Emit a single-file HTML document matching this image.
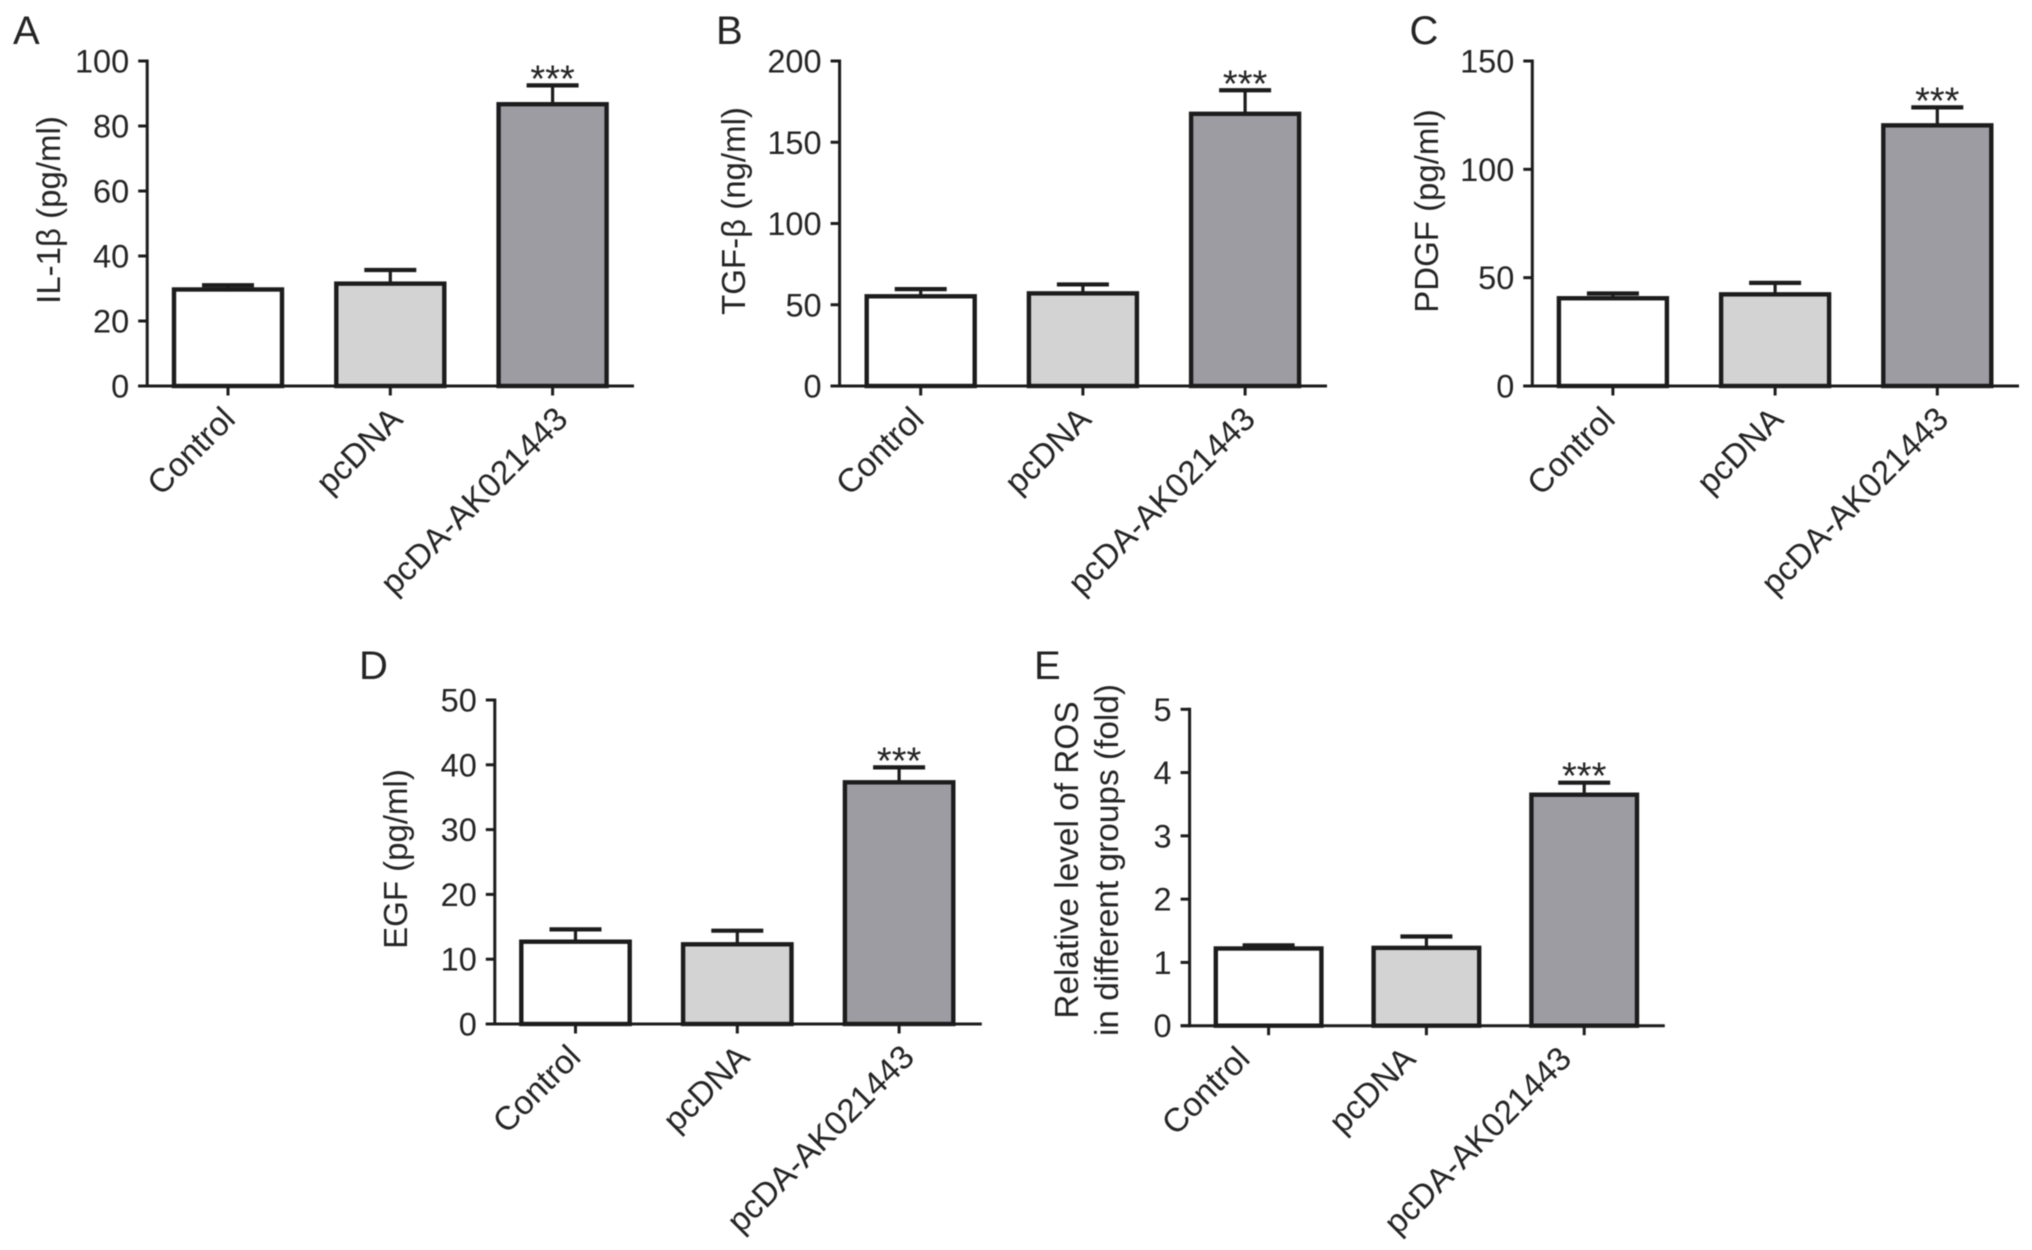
<!DOCTYPE html>
<html lang="en">
<head>
<meta charset="utf-8">
<title>Cytokine levels across groups</title>
<style>
html,body{margin:0;padding:0;background:#fff;width:2032px;height:1250px;overflow:hidden}
svg{display:block;filter:blur(.45px)}
text{font-family:"Liberation Sans",sans-serif;fill:#242424}
</style>
</head>
<body>
<svg id="figure" xmlns="http://www.w3.org/2000/svg" width="2032" height="1250" viewBox="0 0 2032 1250"></svg>
<script>
const categories = ["Control", "pcDNA", "pcDA-AK021443"];

const valuesA = [29.7, 31.5, 86.7];
const errorTopsA = [31, 35.7, 92.5];
const ticksA = [0, 20, 40, 60, 80, 100];

const valuesB = [55.2, 57, 167.5];
const errorTopsB = [59.6, 62.5, 182];
const ticksB = [0, 50, 100, 150, 200];

const valuesC = [40.5, 42.3, 120.3];
const errorTopsC = [42.7, 47.6, 128.6];
const ticksC = [0, 50, 100, 150];

const valuesD = [12.7, 12.3, 37.3];
const errorTopsD = [14.6, 14.4, 39.6];
const ticksD = [0, 10, 20, 30, 40, 50];

const valuesE = [1.22, 1.23, 3.65];
const errorTopsE = [1.27, 1.41, 3.84];
const ticksE = [0, 1, 2, 3, 4, 5];

const fills = ["#ffffff", "#d3d3d3", "#9d9ca3"];
const ink = "#1c1c1c";
const svgNS = "http://www.w3.org/2000/svg";
const figure = document.getElementById("figure");

function makeLine(parent, x1, y1, x2, y2, w) {
  const l = document.createElementNS(svgNS, "line");
  l.setAttribute("x1", x1);
  l.setAttribute("y1", y1);
  l.setAttribute("x2", x2);
  l.setAttribute("y2", y2);
  l.setAttribute("stroke", ink);
  l.setAttribute("stroke-width", w);
  parent.appendChild(l);
  return l;
}

function makeText(parent, str, x, y, size, anchor, rotate) {
  const t = document.createElementNS(svgNS, "text");
  t.textContent = str;
  t.setAttribute("x", x);
  t.setAttribute("y", y);
  t.setAttribute("font-size", size);
  t.setAttribute("text-anchor", anchor);
  if (rotate) t.setAttribute("transform", "rotate(" + rotate + " " + x + " " + y + ")");
  parent.appendChild(t);
  return t;
}

function drawPanel(p) {
  const g = document.createElementNS(svgNS, "g");
  
  
  figure.appendChild(g);

  const maxTick = p.ticks[p.ticks.length - 1];
  const yScale = v => p.y0 - (v / maxTick) * (p.y0 - p.yTop);
  const xScale = i => p.cx0 + i * p.step;

  const letter = makeText(g, p.id, p.letterX, p.letterY, 40, "start");
  
  

  p.titles.forEach(function (tt) {
    const title = makeText(g, tt.text, tt.x, tt.y, p.titleSize, "middle", -90);
    
    
  });

  categories.forEach(function (cat, i) {
    const cx = xScale(i);
    const top = yScale(p.values[i]);
    const capY = yScale(p.errorTops[i]);

    const stem = makeLine(g, cx, capY, cx, top, 3.2);
    
    
    const cap = makeLine(g, cx - 26, capY, cx + 26, capY, 4.2);
    
    

    const bar = document.createElementNS(svgNS, "rect");
    bar.setAttribute("x", cx - p.halfBar);
    bar.setAttribute("y", top);
    bar.setAttribute("width", p.halfBar * 2);
    bar.setAttribute("height", p.y0 - top);
    bar.setAttribute("fill", fills[i]);
    bar.setAttribute("stroke", ink);
    bar.setAttribute("stroke-width", 4.4);
    
    
    g.appendChild(bar);

    const tick = makeLine(g, cx, p.y0, cx, p.y0 + 9.5, 3);
    
    

    const label = makeText(g, cat, cx + p.labelDx[i], p.y0 + 35, 33.3, "end", -45);
    
    
  });

  const stars = makeText(g, "***", xScale(2), yScale(p.errorTops[2]) + 6, 38, "middle");
  
  

  const yAxis = makeLine(g, p.axisX, p.yTop - 1.5, p.axisX, p.y0 + 1.5, 3);
  
  
  const xAxis = makeLine(g, p.axisX - 9, p.y0, p.axisEnd, p.y0, 3);
  
  

  p.ticks.forEach(function (v) {
    const y = yScale(v);
    const tick = makeLine(g, p.axisX - 9, y, p.axisX, y, 3);
    
    
    const label = makeText(g, String(v), p.axisX - 18, y + 11.5, 32.5, "end");
    
    
  });
}

drawPanel({
  id: "A", values: valuesA, errorTops: errorTopsA, ticks: ticksA,
  axisX: 147.2, axisEnd: 634, y0: 386, yTop: 61,
  cx0: 228, step: 162.3, halfBar: 54, labelDx: [9, 14, 17],
  letterX: 13, letterY: 44, titleSize: 33,
  titles: [{ text: "IL-1β (pg/ml)", x: 60, y: 210 }]
});
drawPanel({
  id: "B", values: valuesB, errorTops: errorTopsB, ticks: ticksB,
  axisX: 839.6, axisEnd: 1327, y0: 386, yTop: 61,
  cx0: 920.7, step: 162.2, halfBar: 54, labelDx: [5, 10, 12],
  letterX: 716, letterY: 44, titleSize: 33,
  titles: [{ text: "TGF-β (ng/ml)", x: 745, y: 211 }]
});
drawPanel({
  id: "C", values: valuesC, errorTops: errorTopsC, ticks: ticksC,
  axisX: 1532.3, axisEnd: 2019, y0: 386, yTop: 61,
  cx0: 1612.9, step: 162.2, halfBar: 54, labelDx: [4, 10, 13],
  letterX: 1409.5, letterY: 44, titleSize: 33,
  titles: [{ text: "PDGF (pg/ml)", x: 1438, y: 211 }]
});
drawPanel({
  id: "D", values: valuesD, errorTops: errorTopsD, ticks: ticksD,
  axisX: 494.8, axisEnd: 981.8, y0: 1024, yTop: 700,
  cx0: 575.5, step: 161.8, halfBar: 54.2, labelDx: [7, 14, 17],
  letterX: 359, letterY: 679, titleSize: 33,
  titles: [{ text: "EGF (pg/ml)", x: 407, y: 859 }]
});
drawPanel({
  id: "E", values: valuesE, errorTops: errorTopsE, ticks: ticksE,
  axisX: 1189.6, axisEnd: 1664.8, y0: 1025.7, yTop: 709.3,
  cx0: 1268.6, step: 157.8, halfBar: 52.8, labelDx: [-17, -9, -11],
  letterX: 1034, letterY: 679, titleSize: 33.4,
  titles: [
    { text: "Relative level of ROS", x: 1078, y: 860 },
    { text: "in different groups (fold)", x: 1118, y: 860 }
  ]
});
</script>
</body>
</html>
